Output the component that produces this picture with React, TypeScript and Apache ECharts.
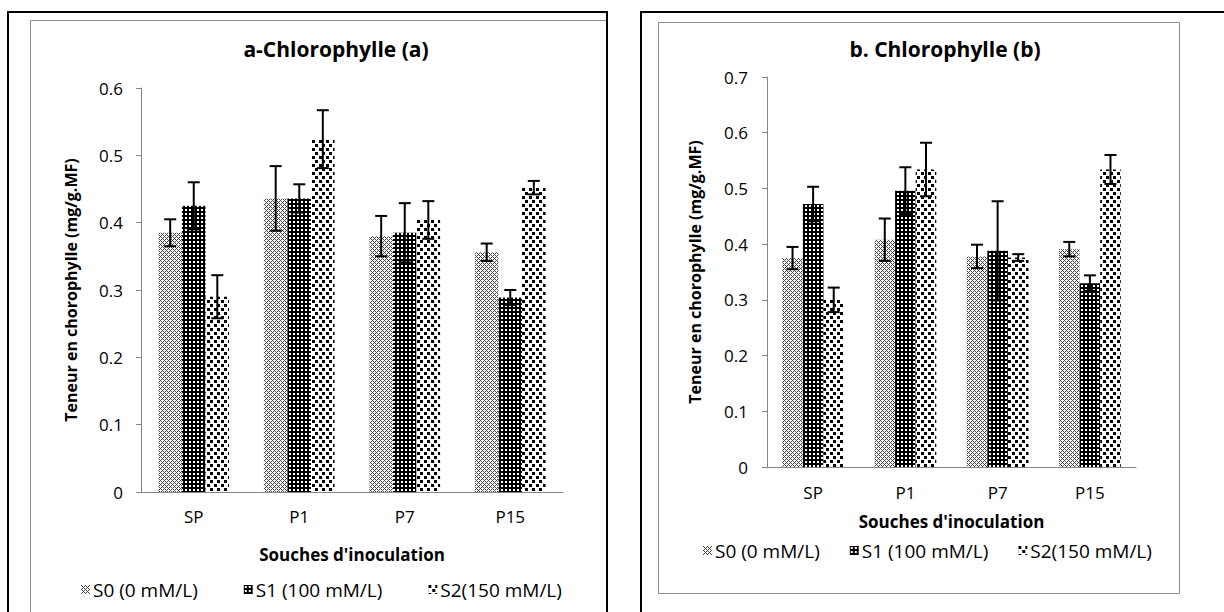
import React, { useEffect, useRef } from "react";
import * as echarts from "echarts";

const categories = ["SP", "P1", "P7", "P15"];
const seriesNames = ["S0 (0 mM/L)", "S1 (100 mM/L)", "S2(150 mM/L)"];

// Chart a - Chlorophylle (a)
const aS0 = [0.385, 0.436, 0.38, 0.356];
const aS1 = [0.425, 0.436, 0.385, 0.289];
const aS2 = [0.29, 0.524, 0.404, 0.452];
const aErrS0 = [0.02, 0.048, 0.03, 0.013];
const aErrS1 = [0.035, 0.021, 0.044, 0.011];
const aErrS2 = [0.032, 0.043, 0.028, 0.01];

// Chart b - Chlorophylle (b)
const bS0 = [0.375, 0.408, 0.378, 0.391];
const bS1 = [0.472, 0.496, 0.388, 0.33];
const bS2 = [0.3, 0.534, 0.376, 0.534];
const bErrS0 = [0.02, 0.038, 0.021, 0.013];
const bErrS1 = [0.031, 0.042, 0.089, 0.014];
const bErrS2 = [0.022, 0.048, 0.006, 0.026];

const FONT = '"Open Sans", "Noto Sans", sans-serif';

function makeCanvas(w: number, h: number, bg: string, fg: string, pts: number[][]) {
  const c = document.createElement("canvas");
  c.width = w;
  c.height = h;
  const ctx = c.getContext("2d")!;
  ctx.fillStyle = bg;
  ctx.fillRect(0, 0, w, h);
  ctx.fillStyle = fg;
  pts.forEach(([x, y, pw, ph]) => ctx.fillRect(x, y, pw || 1, ph || 1));
  return c;
}

function patterns() {
  // S0: light crosshatch
  const p0: number[][] = [];
  for (let y = 0; y < 4; y++)
    for (let x = 0; x < 4; x++)
      if ((x + y) % 4 === 0 || (x - y + 4) % 4 === 0) p0.push([x, y]);
  const c0 = makeCanvas(4, 4, "#ffffff", "#444444", p0);
  // S1: dark with small white squares
  const c1 = makeCanvas(4, 4, "#000000", "#ffffff", [[1, 1, 2, 2]]);
  // S2: white with larger black squares, staggered
  const c2 = makeCanvas(7, 8, "#ffffff", "#000000", [
    [0, 0, 3, 3],
    [4, 4, 3, 3],
  ]);
  return [c0, c1, c2].map((c) => ({ image: c, repeat: "repeat" }));
}

function errorSeries(
  name: string,
  xi: number,
  idx: number,
  vals: number[],
  errs: number[]
) {
  const gap = 0.33;
  return {
    type: "custom",
    name,
    xAxisIndex: xi,
    yAxisIndex: xi,
    z: 10,
    silent: true,
    data: vals.map((v, i) => [i, v, errs[i]]),
    renderItem: (params: any, api: any) => {
      const ci = api.value(0);
      const v = api.value(1);
      const e = api.value(2);
      const band = api.size([1, 0])[0];
      const groupW = band * (1 - gap);
      const bw = groupW / 3;
      const c = api.coord([ci, v]);
      const x = c[0] - groupW / 2 + bw * (idx + 0.5);
      const top = api.coord([ci, v + e])[1];
      const bot = api.coord([ci, v - e])[1];
      const st = { stroke: "#000", lineWidth: 2 };
      return {
        type: "group",
        children: [
          { type: "line", shape: { x1: x, y1: top, x2: x, y2: bot }, style: st },
          { type: "line", shape: { x1: x - 6, y1: top, x2: x + 6, y2: top }, style: st },
          { type: "line", shape: { x1: x - 6, y1: bot, x2: x + 6, y2: bot }, style: st },
        ],
      };
    },
  };
}

export default function App() {
  const ref = useRef<HTMLDivElement>(null);
  useEffect(() => {
    const chart = echarts.init(ref.current!, null, { renderer: "svg" });
    const pats = patterns();
    const axisLine = { lineStyle: { color: "#868686", width: 1 } };
    const xAxisBase = (gi: number, margin: number, nameGap: number) => ({
      type: "category",
      gridIndex: gi,
      data: categories,
      axisLine,
      axisTick: { show: false },
      axisLabel: { color: "#000", fontFamily: FONT, fontSize: 17, margin },
      name: "Souches d'inoculation",
      nameLocation: "middle",
      nameGap,
      nameTextStyle: { color: "#000", fontFamily: FONT, fontSize: 17, fontWeight: "bold" },
    });
    const yAxisBase = (gi: number, max: number, nameGap: number, margin: number) => ({
      type: "value",
      gridIndex: gi,
      min: 0,
      max,
      interval: 0.1,
      axisLine: { show: true, ...axisLine },
      axisTick: { show: true, length: 5, lineStyle: { color: "#868686" } },
      splitLine: { show: false },
      axisLabel: { color: "#000", fontFamily: FONT, fontSize: 17, margin },
      name: "Teneur en chorophylle (mg/g.MF)",
      nameLocation: "middle",
      nameGap,
      nameTextStyle: { color: "#000", fontFamily: FONT, fontSize: 16, fontWeight: "bold" },
    });
    const barSeries = (gi: number, name: string, idx: number, data: number[]) => ({
      type: "bar",
      name,
      xAxisIndex: gi,
      yAxisIndex: gi,
      data,
      barGap: "0%",
      barCategoryGap: "33%",
      itemStyle: { color: pats[idx] },
    });
    const legendBase = (left: number, top: number, gap: number) => ({
      left,
      top,
      itemWidth: 9,
      itemHeight: 9,
      itemGap: gap,
      icon: "rect",
      data: seriesNames,
      selectedMode: false,
      textStyle: { color: "#000", fontFamily: FONT, fontSize: 19, padding: [0, 0, 0, -2] },
    });
    chart.setOption({
      animation: false,
      backgroundColor: "#fff",
      title: [
        {
          text: "a-Chlorophylle (a)",
          left: 331,
          top: 33,
          textAlign: "center",
          textStyle: { fontFamily: FONT, fontSize: 21, fontWeight: "bold", color: "#000" },
        },
        {
          text: "b. Chlorophylle (b)",
          left: 940,
          top: 33,
          textAlign: "center",
          textStyle: { fontFamily: FONT, fontSize: 21, fontWeight: "bold", color: "#000" },
        },
      ],
      legend: [legendBase(76, 575, 46), legendBase(698, 536, 30)],
      grid: [
        { left: 141, right: 1224 - 563, top: 88, bottom: 612 - 492 },
        { left: 767, right: 1224 - 1136, top: 77, bottom: 612 - 467 },
      ],
      xAxis: [xAxisBase(0, 16, 54), xAxisBase(1, 17, 46)],
      yAxis: [yAxisBase(0, 0.6, 62, 18), yAxisBase(1, 0.7, 64, 19)],
      graphic: [
        { type: "rect", shape: { x: 8, y: 12, width: 599, height: 640 }, style: { fill: "none", stroke: "#000", lineWidth: 2 }, z: -1 },
        { type: "rect", shape: { x: 30.5, y: 20.5, width: 576.5, height: 620 }, style: { fill: "none", stroke: "#8c8c8c", lineWidth: 1 }, z: -2 },
        { type: "rect", shape: { x: 641, y: 12, width: 640, height: 640 }, style: { fill: "none", stroke: "#000", lineWidth: 2 }, z: -1 },
        { type: "rect", shape: { x: 658.5, y: 22.5, width: 521, height: 571 }, style: { fill: "none", stroke: "#8c8c8c", lineWidth: 1 }, z: -1 },
      ],
      series: [
        barSeries(0, seriesNames[0], 0, aS0),
        barSeries(0, seriesNames[1], 1, aS1),
        barSeries(0, seriesNames[2], 2, aS2),
        barSeries(1, seriesNames[0], 0, bS0),
        barSeries(1, seriesNames[1], 1, bS1),
        barSeries(1, seriesNames[2], 2, bS2),
        errorSeries("errA0", 0, 0, aS0, aErrS0),
        errorSeries("errA1", 0, 1, aS1, aErrS1),
        errorSeries("errA2", 0, 2, aS2, aErrS2),
        errorSeries("errB0", 1, 0, bS0, bErrS0),
        errorSeries("errB1", 1, 1, bS1, bErrS1),
        errorSeries("errB2", 1, 2, bS2, bErrS2),
      ],
    });
    return () => chart.dispose();
  }, []);
  return (
    <div
      ref={ref}
      style={{ position: "fixed", left: 0, top: 0, width: 1224, height: 612, background: "#fff" }}
    />
  );
}
